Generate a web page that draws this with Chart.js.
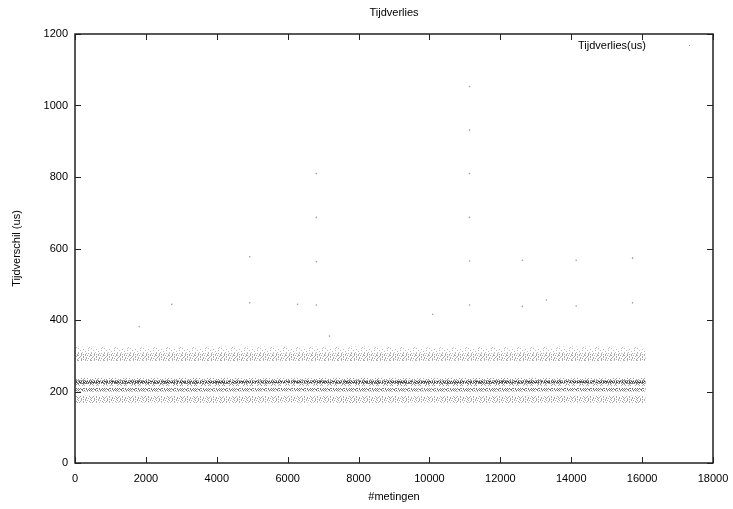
<!DOCTYPE html>
<html>
<head>
<meta charset="utf-8">
<script src="https://cdn.jsdelivr.net/npm/chart.js@4"></script>
<style>
  html, body { margin: 0; padding: 0; background: #fff; }
  #wrap { width: 733px; height: 509px; }
</style>
</head>
<body>
<div id="wrap"><canvas id="myChart" width="733" height="509"></canvas></div>
<script>
const sampleX = [0, 2000, 4000, 6000, 8000, 10000, 12000, 14000, 16100];

// sparse spread above the upper band
const haloHigh = [326, 324, 326, 325, 326, 324, 325, 326, 325];
const haloLow = [308, 307, 308, 307, 308, 307, 307, 308, 307];

// upper light band (~290-305 us)
const upperHigh = [308, 307, 308, 307, 308, 307, 307, 308, 307];
const upperLow = [285, 286, 285, 286, 285, 286, 286, 285, 286];

// spread around the main band
const spreadHigh = [238, 237, 238, 237, 238, 237, 238, 237, 238];
const spreadLow = [216, 216, 215, 216, 216, 215, 216, 216, 216];

// main dark band core (~226 us)
const mainHigh = [231, 231, 230, 231, 231, 230, 231, 231, 231];
const mainLow = [222, 222, 222, 223, 222, 222, 222, 223, 222];

// second band just below (~205 us)
const midHigh = [210, 210, 209, 210, 210, 209, 210, 210, 210];
const midLow = [200, 200, 200, 201, 200, 200, 200, 201, 200];

// lowest light band (~178 us)
const lowHigh = [188, 188, 187, 188, 188, 187, 188, 188, 188];
const lowLow = [168, 169, 168, 169, 168, 169, 168, 169, 168];

// isolated measurements far above the bands
const outlierX = [11130, 11130, 11130, 11130, 11130, 11130, 6810, 6810, 6810, 6810,
  12620, 14140, 15730, 4930, 2730, 4930, 6280, 12620, 13300, 14140, 15730, 10090, 1810, 7180];
const outlierY = [1053, 931, 810, 687, 565, 442, 810, 687, 563, 442,
  567, 567, 573, 577, 444, 448, 444, 438, 456, 439, 448, 416, 381, 355];

const xTicks = [0, 2000, 4000, 6000, 8000, 10000, 12000, 14000, 16000, 18000];
const yTicks = [0, 200, 400, 600, 800, 1000, 1200];

const FONT = 'Liberation Sans, Arial, sans-serif';

// dotted texture used to fill a band
function speckle(color, rows) {
  const c = document.createElement('canvas');
  c.width = rows[0].length;
  c.height = rows.length;
  const g = c.getContext('2d');
  g.fillStyle = color;
  rows.forEach((r, y) => {
    for (let x = 0; x < r.length; x++) {
      if (r[x] === 'x') g.fillRect(x, y, 1, 1);
    }
  });
  return g.createPattern(c, 'repeat');
}

const pCore = speckle('#4a4a4a', [
  'x.xx.xxx.x.xx',
  'xx.x.x.xxx.x.',
  '.xxx.xx.x.xxx',
  'x.x.xx.xx.x.x'
]);
const pSpread = speckle('#9a9a9a', [
  'x....x...x..x.',
  '..x.....x.....',
  '.....x.x...x..',
  'x..x.......x..',
  '......x.x....x'
]);
const pMid = speckle('#777', [
  'x.x..xx.x..x.',
  '.x.xx...x.x.x',
  'x...x.x..x.x.',
  '.xx..x.x.x..x'
]);
const pLow = speckle('#a6a6a6', [
  'x..x...x.x...',
  '..x..x.....x.',
  '.x...x..x...x',
  'x..x....x.x..',
  '...x.x.x....x'
]);
const pUpper = speckle('#aaa', [
  'x..x...x.x..x',
  '..x..x.....x.',
  '.x...x..x....',
  'x..x....x.x..',
  '...x.x.x....x'
]);
const pHalo = speckle('#bbb', [
  'x.........x..',
  '.....x.......',
  '..x.......x..',
  '.......x.....',
  'x...x........',
  '...........x.'
]);

function pts(ys) {
  return sampleX.map((x, i) => ({ x: x, y: ys[i] }));
}

function bandPair(high, low, pattern) {
  return [
    { type: 'line', data: pts(high), borderWidth: 0, pointRadius: 0, fill: false, showLine: true },
    { type: 'line', data: pts(low), borderWidth: 0, pointRadius: 0, fill: '-1', backgroundColor: pattern, showLine: true }
  ];
}

const frame = {
  id: 'frame',
  afterDraw(chart) {
    const ctx = chart.ctx;
    const a = chart.chartArea;
    const xs = chart.scales.x;
    const ys = chart.scales.y;
    ctx.save();
    ctx.strokeStyle = '#222';
    ctx.lineWidth = 1.5;
    ctx.strokeRect(a.left, a.top, a.right - a.left, a.bottom - a.top);
    ctx.lineWidth = 1;
    ctx.beginPath();
    xTicks.forEach(v => {
      const px = Math.round(xs.getPixelForValue(v)) + 0.5;
      ctx.moveTo(px, a.bottom); ctx.lineTo(px, a.bottom - 6);
      ctx.moveTo(px, a.top); ctx.lineTo(px, a.top + 6);
    });
    yTicks.forEach(v => {
      const py = Math.round(ys.getPixelForValue(v)) + 0.5;
      ctx.moveTo(a.left, py); ctx.lineTo(a.left + 6, py);
      ctx.moveTo(a.right, py); ctx.lineTo(a.right - 6, py);
    });
    ctx.stroke();

    ctx.fillStyle = '#000';
    ctx.font = '11px ' + FONT;
    ctx.textAlign = 'center';
    ctx.textBaseline = 'middle';
    ctx.fillText('Tijdverlies', (a.left + a.right) / 2, 13);
    ctx.textAlign = 'right';
    ctx.fillText('Tijdverlies(us)', 646, 46);
    ctx.fillStyle = '#999';
    ctx.fillRect(689, 45, 1, 1);
    ctx.restore();
  }
};

new Chart(document.getElementById('myChart'), {
  type: 'scatter',
  data: {
    datasets: [
      ...bandPair(haloHigh, haloLow, pHalo),
      ...bandPair(upperHigh, upperLow, pUpper),
      ...bandPair(spreadHigh, spreadLow, pSpread),
      ...bandPair(mainHigh, mainLow, pCore),
      ...bandPair(midHigh, midLow, pMid),
      ...bandPair(lowHigh, lowLow, pLow),
      {
        data: outlierX.map((x, i) => ({ x: x, y: outlierY[i] })),
        pointRadius: 0.8,
        pointBorderWidth: 0,
        backgroundColor: '#999'
      }
    ]
  },
  options: {
    responsive: false,
    animation: false,
    layout: { padding: { top: 34, right: 20, left: 0, bottom: 0 } },
    plugins: { legend: { display: false }, tooltip: { enabled: false } },
    scales: {
      x: {
        type: 'linear',
        min: 0,
        max: 18000,
        grid: { display: false, drawTicks: false },
        border: { display: false },
        afterFit(s) { s.height = 46; s.paddingLeft = 0; s.paddingRight = 0; },
        afterBuildTicks(s) { s.ticks = xTicks.map(v => ({ value: v })); },
        ticks: {
          color: '#000', padding: 9, maxRotation: 0, font: { family: FONT, size: 11 },
          callback: v => String(v)
        },
        title: { display: true, text: '#metingen', color: '#000', padding: { top: 0, bottom: 5 }, font: { family: FONT, size: 11 } }
      },
      y: {
        min: 0,
        max: 1200,
        grid: { display: false, drawTicks: false },
        border: { display: false },
        afterFit(s) { s.width = 75; s.paddingTop = 0; s.paddingBottom = 0; },
        afterBuildTicks(s) { s.ticks = yTicks.map(v => ({ value: v })); },
        ticks: {
          color: '#000', padding: 7, font: { family: FONT, size: 11 },
          callback: v => String(v)
        },
        title: { display: true, text: 'Tijdverschil (us)', color: '#000', padding: { top: 10, bottom: 0 }, font: { family: FONT, size: 11 } }
      }
    }
  },
  plugins: [frame]
});
</script>
</body>
</html>
